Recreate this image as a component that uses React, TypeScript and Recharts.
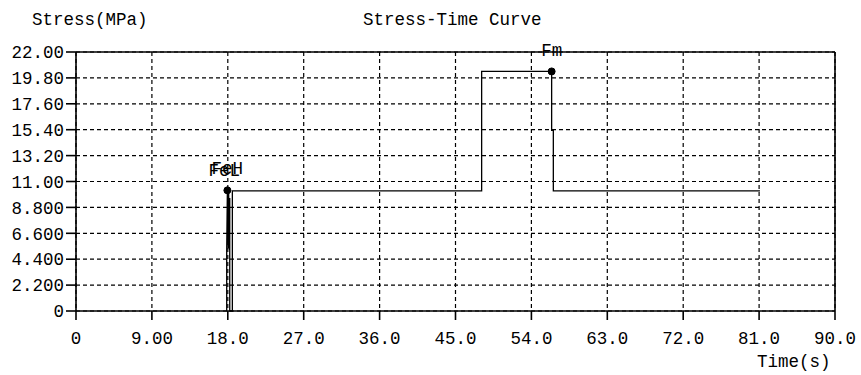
import React from 'react'
import {
  LineChart, Line, XAxis, YAxis, CartesianGrid,
  ReferenceLine, ReferenceDot, Label,
} from 'recharts'

// stress-time record, seconds / MPa
const TIME = [17.87, 17.87, 17.95, 18.05, 18.1, 18.2, 18.23, 18.23, 18.54, 18.54, 48.1, 48.1, 56.4, 56.4, 56.6, 56.6, 81.1]
const STRESS = [0, 5.1, 10.25, 5.3, 10.0, 5.2, 9.6, 0, 0, 10.2, 10.2, 20.35, 20.35, 15.35, 15.35, 10.2, 10.2]

const X_TICKS = [0, 9, 18, 27, 36, 45, 54, 63, 72, 81, 90]
const X_LABELS = ['0', '9.00', '18.0', '27.0', '36.0', '45.0', '54.0', '63.0', '72.0', '81.0', '90.0']
const Y_TICKS = [0, 2.2, 4.4, 6.6, 8.8, 11, 13.2, 15.4, 17.6, 19.8, 22]
const Y_LABELS = ['0', '2.200', '4.400', '6.600', '8.800', '11.00', '13.20', '15.40', '17.60', '19.80', '22.00']

// marked points: yield (FeH / FeL) and maximum (Fm)
const YIELD_POINT = { t: 17.95, s: 10.25 }
const MAX_POINT = { t: 56.4, s: 20.35 }

const FONT = '"Liberation Mono", "DejaVu Sans Mono", monospace'
const FS = 17.5

const data = TIME.map((t, i) => ({ t, s: STRESS[i] }))

const tickStyle = { fontSize: FS, fill: '#000', fontFamily: FONT }

export default function App() {
  return (
    <div style={{ position: 'absolute', left: 0, top: 0, width: 861, height: 375, background: '#fff' }}>
      <div style={{ position: 'absolute', left: 32, top: 10, fontFamily: FONT, fontSize: FS, color: '#000' }}>
        Stress(MPa)
      </div>
      <div style={{ position: 'absolute', left: 363, top: 10, fontFamily: FONT, fontSize: FS, color: '#000' }}>
        Stress-Time Curve
      </div>
      <div style={{ position: 'absolute', left: 757, top: 352, fontFamily: FONT, fontSize: FS, color: '#000' }}>
        Time(s)
      </div>
      <LineChart width={861} height={375} data={data}
                 margin={{ top: 52, right: 26, left: 0, bottom: 0 }}>
        <CartesianGrid strokeDasharray="4 3" stroke="#000" strokeWidth={1.2} />
        <XAxis dataKey="t" type="number" domain={[0, 90]} ticks={X_TICKS}
               tickFormatter={(v: number) => X_LABELS[X_TICKS.indexOf(v)] ?? ''}
               tick={tickStyle} tickSize={9} tickMargin={12} height={64}
               axisLine={{ stroke: '#000', strokeWidth: 1.6 }}
               tickLine={{ stroke: '#000', strokeWidth: 1.6 }} interval={0} />
        <YAxis type="number" domain={[0, 22]} ticks={Y_TICKS}
               tickFormatter={(v: number) => Y_LABELS[Y_TICKS.indexOf(v)] ?? ''}
               tick={tickStyle} tickSize={10} tickMargin={2} width={76}
               axisLine={{ stroke: '#000', strokeWidth: 1.6 }}
               tickLine={{ stroke: '#000', strokeWidth: 1.6 }} interval={0} />
        <ReferenceLine y={22} stroke="#000" strokeWidth={1.6} />
        <ReferenceLine x={90} stroke="#000" strokeWidth={1.6} />
        <Line type="linear" dataKey="s" stroke="#000" strokeWidth={1.3}
              dot={false} activeDot={false} isAnimationActive={false} />
        <ReferenceDot x={YIELD_POINT.t} y={YIELD_POINT.s} r={3.5} fill="#000" stroke="#000">
          <Label value="FeL" position="top" offset={11} fill="#000"
                 style={{ fontFamily: FONT, fontSize: FS }} dx={-3} />
          <Label value="FeH" position="top" offset={13} fill="#000"
                 style={{ fontFamily: FONT, fontSize: FS }} dx={0} />
        </ReferenceDot>
        <ReferenceDot x={MAX_POINT.t} y={MAX_POINT.s} r={3.5} fill="#000" stroke="#000">
          <Label value="Fm" position="top" offset={12} fill="#000"
                 style={{ fontFamily: FONT, fontSize: FS }} />
        </ReferenceDot>
      </LineChart>
    </div>
  )
}
